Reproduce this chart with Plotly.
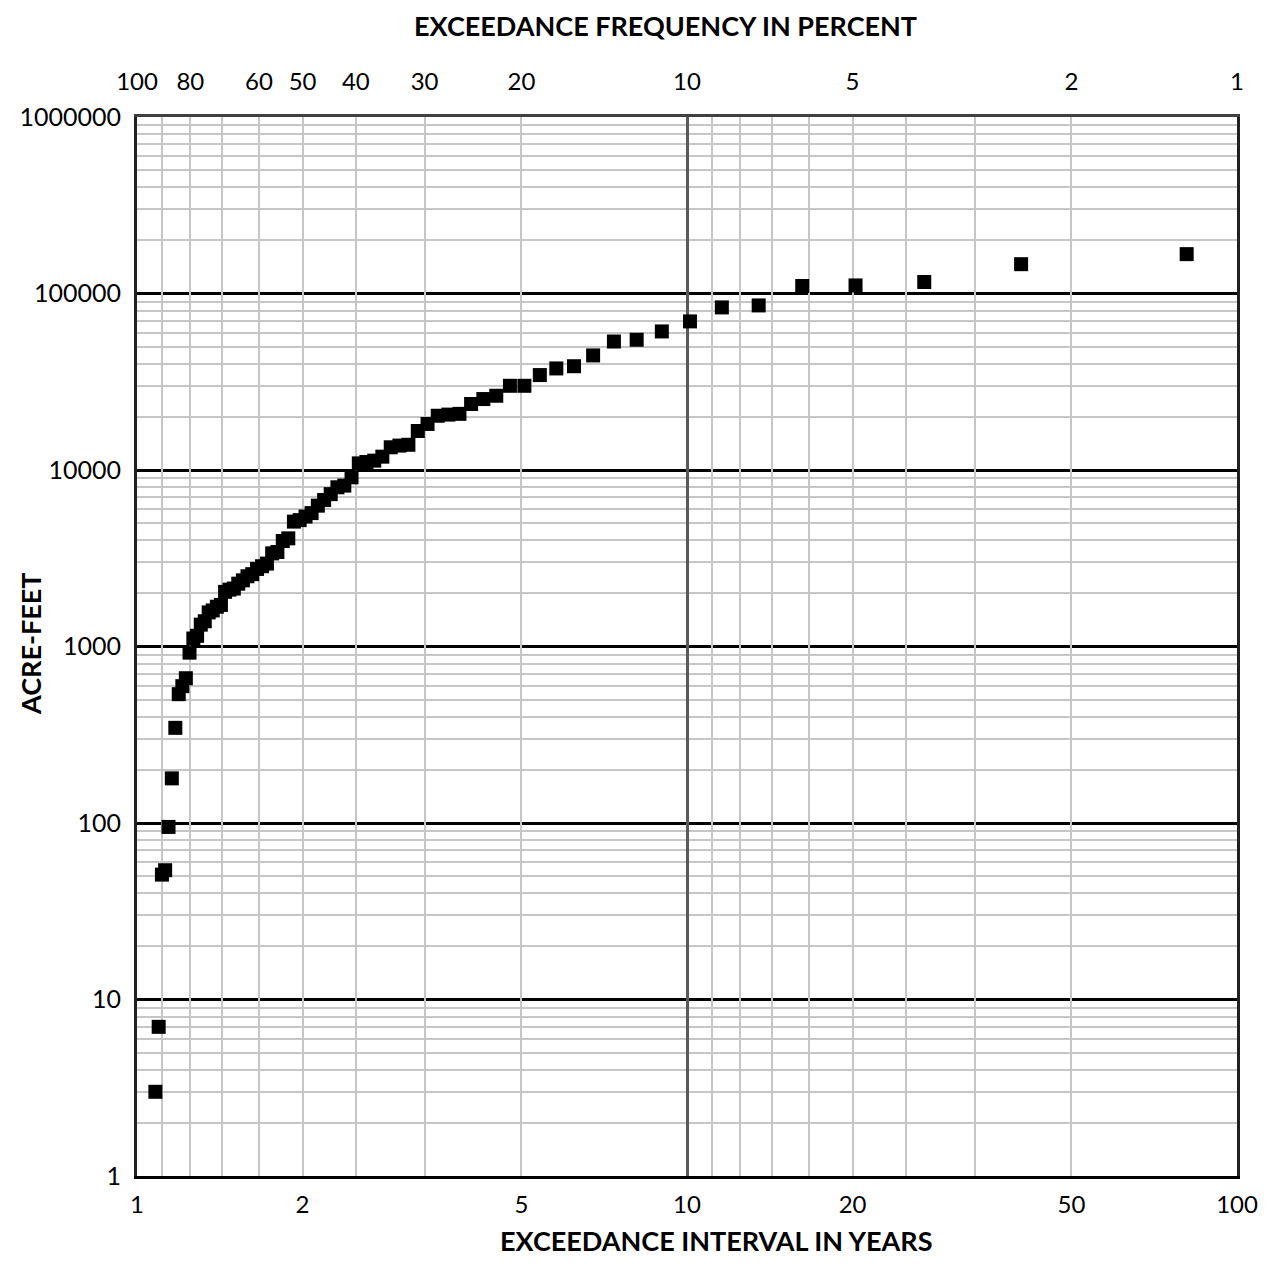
import plotly.graph_objects as go

# Exceedance interval (years), largest event first
interval_years = [81.0, 40.5, 27.0, 20.25, 16.2, 13.5, 11.571, 10.125, 9.0, 8.1,
                  7.364, 6.75, 6.231, 5.786, 5.4, 5.0625, 4.765, 4.5, 4.263, 4.05,
                  3.857, 3.682, 3.522, 3.375, 3.24, 3.115, 3.0, 2.893, 2.793, 2.7,
                  2.613, 2.531, 2.455, 2.382, 2.314, 2.25, 2.189, 2.132, 2.077, 2.025,
                  1.976, 1.929, 1.884, 1.841, 1.8, 1.761, 1.723, 1.688, 1.653, 1.62,
                  1.588, 1.558, 1.528, 1.5, 1.473, 1.446, 1.421, 1.397, 1.373, 1.35,
                  1.328, 1.306, 1.286, 1.266, 1.246, 1.227, 1.209, 1.191, 1.174, 1.157,
                  1.141, 1.125, 1.110, 1.095, 1.08]

acre_feet = [167100, 146600, 116200, 111100, 110300, 85600, 83400, 69500, 60970, 54700,
             53450, 44570, 38720, 37620, 34500, 30000, 30000, 26340, 25230, 23660,
             20800, 20600, 20290, 18230, 16630, 13900, 13750, 13450, 11900, 11300,
             11100, 10900, 9090, 8160, 7980, 7300, 6760, 6280, 5700, 5450,
             5200, 5100, 4100, 3960, 3430, 3370, 2950, 2850, 2750, 2570,
             2500, 2370, 2270, 2130, 2100, 2040, 1720, 1680, 1600, 1560,
             1390, 1330, 1150, 1110, 923, 661, 596, 537, 346, 179,
             95, 54, 51, 7, 3]

# Axis ticks
interval_ticks = [1, 2, 5, 10, 20, 50, 100]
percent_grid = [100, 90, 80, 70, 60, 50, 40, 30, 20, 10, 9, 8, 7, 6, 5, 4, 3, 2, 1]
percent_labeled = [100, 80, 60, 50, 40, 30, 20, 10, 5, 2, 1]
y_major = [1, 10, 100, 1000, 10000, 100000, 1000000]
y_minor = [m * 10 ** k for k in range(6) for m in range(2, 10)]

FONT = "Lato"
TICK_SIZE = 24
YTICK_SIZE = 25
TITLE_SIZE = 27

fig = go.Figure()
fig.add_trace(go.Scatter(
    x=interval_years, y=acre_feet, mode="markers",
    marker=dict(symbol="square", size=14, color="black", line=dict(width=0)),
    xaxis="x", yaxis="y", showlegend=False, hoverinfo="x+y",
))
# invisible anchor traces so that the overlaid axes are drawn
fig.add_trace(go.Scatter(
    x=[percent_grid[0], percent_grid[-1]], y=[y_major[0], y_major[0]], mode="markers",
    marker=dict(opacity=0), xaxis="x2", yaxis="y", showlegend=False, hoverinfo="skip",
))
fig.add_trace(go.Scatter(
    x=[interval_ticks[0], interval_ticks[-1]], y=[y_major[0], y_major[0]], mode="markers",
    marker=dict(opacity=0), xaxis="x3", yaxis="y", showlegend=False, hoverinfo="skip",
))

fig.update_layout(
    width=1255, height=1250,
    margin=dict(l=129, r=26, t=109, b=82, autoexpand=False),
    paper_bgcolor="white", plot_bgcolor="white",
    font=dict(family=FONT, size=TICK_SIZE, color="black"),
    xaxis=dict(
        type="log", range=[0, 2], domain=[0, 1], anchor="y", side="bottom",
        automargin=False,
        tickmode="array", tickvals=interval_ticks, ticktext=[str(v) for v in interval_ticks],
        showgrid=False, zeroline=False, showline=True, linecolor="black", linewidth=3,
        ticks="", ticklabelstandoff=5, tickfont=dict(family=FONT, size=TICK_SIZE),
    ),
    xaxis2=dict(
        type="log", range=[2, 0], overlaying="x", anchor="y", side="top",
        automargin=False,
        tickmode="array", tickvals=percent_grid,
        ticktext=[str(v) if v in percent_labeled else "" for v in percent_grid],
        showgrid=True, gridcolor="#c6c6c6", gridwidth=1.5,
        zeroline=False, showline=True, linecolor="#404040", linewidth=3,
        ticks="", ticklabelstandoff=14, tickfont=dict(family=FONT, size=TICK_SIZE),
    ),
    xaxis3=dict(
        type="log", range=[0, 2], overlaying="x", anchor="y", side="bottom",
        automargin=False,
        tickmode="array", tickvals=[10], showticklabels=False,
        showgrid=True, gridcolor="#595959", gridwidth=3,
        zeroline=False, showline=False, ticks="",
    ),
    yaxis=dict(
        type="log", range=[0, 6], domain=[0, 1], anchor="x",
        automargin=False,
        tickmode="array", tickvals=y_major, ticktext=[str(v) for v in y_major],
        showgrid=True, gridcolor="black", gridwidth=3,
        minor=dict(tickmode="array", tickvals=y_minor, showgrid=True,
                   gridcolor="#c6c6c6", gridwidth=1.5, ticks=""),
        zeroline=False, showline=True, linecolor="#202020", linewidth=3, mirror=True,
        ticks="", ticklabelstandoff=8, tickfont=dict(family=FONT, size=YTICK_SIZE),
    ),
    annotations=[
        dict(text="<b>EXCEEDANCE FREQUENCY IN PERCENT</b>", xref="paper", yref="paper",
             x=0.48, y=1.0862, xanchor="center", yanchor="middle", showarrow=False,
             font=dict(family=FONT, size=TITLE_SIZE, color="black")),
        dict(text="<b>EXCEEDANCE INTERVAL IN YEARS</b>", xref="paper", yref="paper",
             x=0.5264, y=-0.0605, xanchor="center", yanchor="middle", showarrow=False,
             font=dict(family=FONT, size=TITLE_SIZE, color="black")),
        dict(text="<b>ACRE-FEET</b>", xref="paper", yref="paper",
             x=-0.0973, y=0.5033, xanchor="center", yanchor="middle", showarrow=False,
             textangle=-90, font=dict(family=FONT, size=TITLE_SIZE, color="black")),
    ],
)

fig.write_html("out.html")
